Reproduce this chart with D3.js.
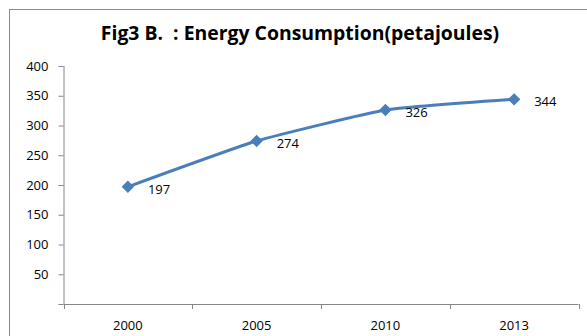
<!DOCTYPE html>
<html>
<head>
<meta charset="utf-8">
<script src="https://cdn.jsdelivr.net/npm/d3@7"></script>
<style>
  html, body { margin: 0; padding: 0; background: #fff; }
  svg { display: block; }
</style>
</head>
<body>
<svg id="chart" width="587" height="336"></svg>
<script>
// Energy consumption by year (petajoules)
const years = ["2000", "2005", "2010", "2013"];
const consumption = [197, 274, 326, 344];
const yTicks = [0, 50, 100, 150, 200, 250, 300, 350, 400];
const titleText = "Fig3 B.  : Energy Consumption(petajoules)";

const svg = d3.select("#chart");
const fontFamily = "'Open Sans', 'Noto Sans', 'Liberation Sans', sans-serif";
const axisColor = "#868686";
const lineColor = "#4a7ebb";

// chart area frame
svg.append("rect")
  .attr("x", 9.5).attr("y", 9.5)
  .attr("width", 620).attr("height", 360)
  .attr("fill", "#fff")
  .attr("stroke", "#8c8c8c")
  .attr("stroke-width", 1);

// title
svg.append("text")
  .attr("x", 300).attr("y", 40)
  .attr("text-anchor", "middle")
  .attr("font-family", fontFamily)
  .attr("font-weight", "bold")
  .attr("font-size", 19.4)
  .attr("fill", "#000")
  .style("white-space", "pre")
  .text(titleText);

const plot = { left: 63.5, right: 578.5, top: 66, bottom: 304 };

const x = d3.scaleBand().domain(years).range([plot.left, plot.right]);
const y = d3.scaleLinear().domain([0, 400]).range([plot.bottom, plot.top]);

// y axis
const yAxis = svg.append("g")
  .attr("transform", `translate(${plot.left},0)`)
  .call(d3.axisLeft(y).tickValues(yTicks).tickSize(5).tickPadding(10)
    .tickFormat(d => d === 0 ? "" : d));
yAxis.select(".domain").attr("stroke", axisColor).attr("d", `M0.5,${plot.top}V${plot.bottom}`);
yAxis.selectAll(".tick line").attr("stroke", axisColor);
yAxis.selectAll(".tick text")
  .attr("font-family", fontFamily).attr("font-size", 13).attr("fill", "#000");

// x axis, ticks between categories
const xAxis = svg.append("g")
  .attr("transform", `translate(0,${plot.bottom})`);
xAxis.append("line")
  .attr("x1", plot.left).attr("x2", plot.right)
  .attr("y1", 0.5).attr("y2", 0.5)
  .attr("stroke", axisColor);
const boundaries = years.map(d => x(d)).concat([plot.right]);
xAxis.selectAll("line.tick")
  .data(boundaries)
  .join("line")
  .attr("class", "tick")
  .attr("x1", d => Math.round(d) + 0.5).attr("x2", d => Math.round(d) + 0.5)
  .attr("y1", 0).attr("y2", 5)
  .attr("stroke", axisColor);
xAxis.selectAll("text")
  .data(years)
  .join("text")
  .attr("x", d => x(d) + x.bandwidth() / 2)
  .attr("y", 26)
  .attr("text-anchor", "middle")
  .attr("font-family", fontFamily)
  .attr("font-size", 13)
  .attr("fill", "#000")
  .text(d => d);

const pts = years.map((d, i) => ({ year: d, value: consumption[i] }));
const cx = d => x(d.year) + x.bandwidth() / 2;

// smoothed series line
svg.append("path")
  .datum(pts)
  .attr("fill", "none")
  .attr("stroke", lineColor)
  .attr("stroke-width", 3)
  .attr("stroke-linejoin", "round")
  .attr("d", d3.line().x(cx).y(d => y(d.value)).curve(d3.curveCardinal.tension(0.6)));

// diamond markers (rotated squares)
svg.selectAll("path.marker")
  .data(pts)
  .join("path")
  .attr("class", "marker")
  .attr("transform", d => `translate(${cx(d)},${y(d.value)}) rotate(45)`)
  .attr("d", d3.symbol().type(d3.symbolSquare).size(60))
  .attr("fill", lineColor)
  .attr("stroke", lineColor)
  .attr("stroke-width", 1);

// value labels
svg.selectAll("text.value")
  .data(pts)
  .join("text")
  .attr("class", "value")
  .attr("x", d => cx(d) + 20)
  .attr("y", d => y(d.value) + 7)
  .attr("font-family", fontFamily)
  .attr("font-size", 13)
  .attr("fill", "#000")
  .text(d => d.value);
</script>
</body>
</html>
